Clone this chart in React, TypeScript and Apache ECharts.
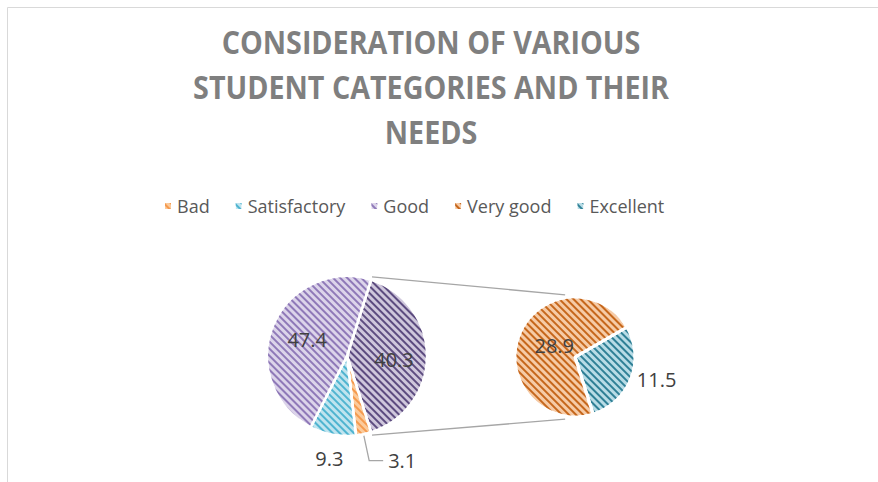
import React, { useEffect, useRef } from "react";
import * as echarts from "echarts";

const categories = ["Bad", "Satisfactory", "Good", "Very good", "Excellent"];
const values = [3.1, 9.3, 47.4, 28.9, 11.5];
const otherName = "Other";
const otherValue = 40.3;
const baseColors = ["#fbcb9c", "#bfe4ef", "#dcd4ea", "#f6cba6", "#b8dce6"];
const stripeColors = ["#f59a4e", "#4fb4d0", "#8f79b8", "#c6671c", "#2f8096"];
const otherBase = "#cfc7dc";
const otherStripe = "#5d4c80";
const titleText = "CONSIDERATION OF VARIOUS\nSTUDENT CATEGORIES AND THEIR\nNEEDS";

const decal = (c: string) => ({
  symbol: "rect",
  symbolSize: 1,
  dashArrayX: [1, 0],
  dashArrayY: [2, 3],
  rotation: Math.PI / 4,
  color: c,
});

export default function App() {
  const ref = useRef<HTMLDivElement>(null);
  useEffect(() => {
    document.body.style.margin = "0";
    const chart = echarts.init(ref.current!, null, { renderer: "svg" });

    const mainC = [347, 356];
    const mainR = 80;
    const subC = [575, 357];
    const subR = 60;
    const mainTotal = otherValue + values[0] + values[1] + values[2];
    const half = (otherValue / mainTotal) * Math.PI; // half angle of Other slice (rad)
    const mainStart = (half * 180) / Math.PI;
    const subAng = (99 * Math.PI) / 180;

    const labelFont = { fontFamily: "Open Sans", fontSize: 20, color: "#404040" };
    const item = (i: number, label: any) => ({
      name: categories[i],
      value: values[i],
      itemStyle: { color: baseColors[i], decal: decal(stripeColors[i]) },
      label,
    });

    const p1 = [mainC[0] + (mainR + 3) * Math.cos(half), mainC[1] - (mainR + 3) * Math.sin(half)];
    const p2 = [mainC[0] + (mainR + 3) * Math.cos(half), mainC[1] + (mainR + 3) * Math.sin(half)];
    const q1 = [subC[0] + (subR + 3) * Math.cos(subAng), subC[1] - (subR + 3) * Math.sin(subAng)];
    const q2 = [subC[0] + (subR + 3) * Math.cos(subAng), subC[1] + (subR + 3) * Math.sin(subAng)];

    chart.setOption({
      animation: false,
      legend: {
        data: categories,
        left: 158,
        top: 192,
        icon: "rect",
        itemWidth: 8,
        itemHeight: 8,
        itemGap: 24,
        textStyle: { fontFamily: "Open Sans", fontSize: 18, color: "#595959" },
      },
      graphic: [
        {
          type: "rect",
          z: -10,
          shape: { x: 7.5, y: 7.5, width: 900, height: 500 },
          style: { fill: "none", stroke: "#d9d9d9", lineWidth: 1 },
          silent: true,
        },
        {
          type: "text",
          x: 431,
          y: 19,
          scaleX: 0.87,
          style: {
            text: titleText,
            textAlign: "center",
            textVerticalAlign: "top",
            fontFamily: "Open Sans",
            fontWeight: "bold",
            fontSize: 33,
            lineHeight: 45,
            fill: "#7f7f7f",
          },
        },
        {
          type: "line",
          shape: { x1: p1[0], y1: p1[1], x2: q1[0], y2: q1[1] },
          style: { stroke: "#a6a6a6", lineWidth: 1.3 },
        },
        {
          type: "line",
          shape: { x1: p2[0], y1: p2[1], x2: q2[0], y2: q2[1] },
          style: { stroke: "#a6a6a6", lineWidth: 1.3 },
        },
      ],
      series: [
        {
          type: "pie",
          center: mainC,
          radius: mainR,
          startAngle: mainStart,
          clockwise: true,
          avoidLabelOverlap: false,
          itemStyle: { borderColor: "#ffffff", borderWidth: 2.5 },
          label: { ...labelFont },
          labelLine: { lineStyle: { color: "#a6a6a6", width: 1.3 } },
          emphasis: { disabled: true },
          labelLayout: (params: any) =>
            params.dataIndex === 2 ? { dx: 20 } : params.dataIndex === 0 ? { dx: 4, dy: 3 } : {},
          data: [
            {
              name: otherName,
              value: otherValue,
              itemStyle: { color: otherBase, decal: decal(otherStripe) },
              label: { show: true, position: "inside", formatter: "{c}" },
            },
            item(0, { show: true, position: "outside", formatter: "{c}" }),
            item(1, { show: true, position: "outside", formatter: "{c}" }),
            item(2, { show: true, position: "inside", formatter: "{c}" }),
          ].map((d: any, i: number) =>
            i === 1
              ? { ...d, labelLine: { show: true, length: 27, length2: 14 } }
              : i === 2
              ? { ...d, labelLine: { show: false, length: 24, length2: 0 } }
              : d
          ),
        },
        {
          type: "pie",
          center: subC,
          radius: subR,
          startAngle: 30,
          clockwise: true,
          avoidLabelOverlap: false,
          itemStyle: { borderColor: "#ffffff", borderWidth: 3 },
          label: { ...labelFont },
          emphasis: { disabled: true },
          labelLayout: (params: any) => (params.dataIndex === 1 ? { dx: 10 } : {}),
          data: [
            {
              ...item(4, { show: true, position: "outside", formatter: "{c}" }),
              labelLine: { show: false, length: 1, length2: 0 },
            },
            item(3, { show: true, position: "inside", formatter: "{c}" }),
          ],
        },
      ],
    });
    return () => chart.dispose();
  }, []);
  return <div ref={ref} style={{ width: 878, height: 482 }} />;
}
